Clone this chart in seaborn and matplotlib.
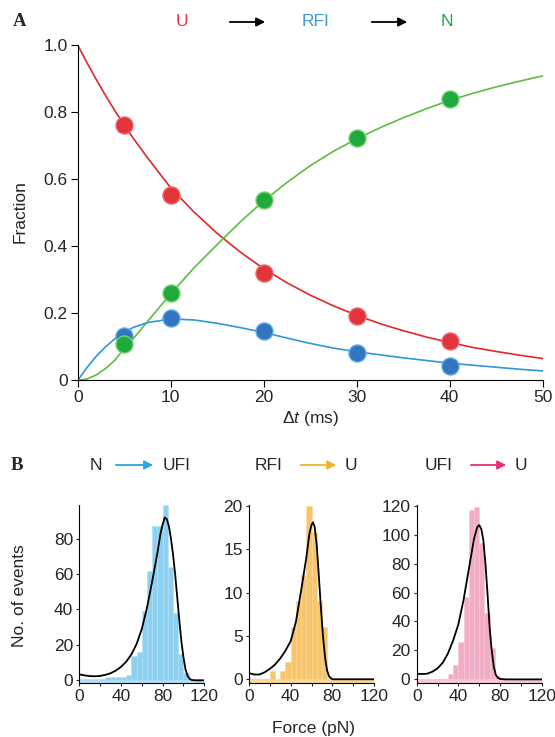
import numpy as np
import pandas as pd
import matplotlib
matplotlib.use("Agg")
import matplotlib.pyplot as plt
import seaborn as sns

# ---- panel A data: fraction of U, RFI and N vs delay time ----
t_pts = [5, 10, 20, 30, 40]
U_pts = [0.762, 0.552, 0.319, 0.192, 0.117]
RFI_pts = [0.132, 0.187, 0.148, 0.082, 0.044]
N_pts = [0.108, 0.261, 0.538, 0.722, 0.839]

# fitted curves
t_fit = [0, 1, 2, 3, 4, 5, 6, 7.5, 10, 12.5, 15, 17.5, 20, 22.5, 25, 27.5,
         30, 32.5, 35, 37.5, 40, 42.5, 45, 47.5, 50]
U_fit = [1.0, 0.947, 0.897, 0.849, 0.804, 0.761, 0.721, 0.664, 0.574, 0.502,
         0.438, 0.382, 0.333, 0.291, 0.254, 0.222, 0.194, 0.169, 0.148, 0.129,
         0.113, 0.098, 0.086, 0.075, 0.065]
RFI_fit = [0, 0.038, 0.072, 0.100, 0.124, 0.143, 0.158, 0.172, 0.183, 0.180,
           0.170, 0.157, 0.143, 0.126, 0.110, 0.096, 0.085, 0.076, 0.067,
           0.059, 0.051, 0.045, 0.039, 0.033, 0.028]
N_fit = [0, 0.004, 0.016, 0.035, 0.06, 0.095, 0.125, 0.175, 0.258, 0.335,
         0.405, 0.473, 0.535, 0.59, 0.64, 0.683, 0.72, 0.753, 0.783, 0.81,
         0.835, 0.856, 0.875, 0.892, 0.908]

# ---- panel B data: rupture force histograms (5 pN bins) ----
bin_edges = list(range(0, 125, 5))
counts_N = [1, 1, 1, 1, 1, 2, 2, 2, 2, 3, 14, 16, 39, 62, 87, 87, 99, 64,
            38, 15, 4, 1, 1, 1]
counts_RFI = [0, 0, 0, 0, 1, 0, 1, 2, 6, 9, 12, 20, 17, 9, 6, 0, 0, 0,
              0, 0, 0, 0, 0, 0]
counts_UFI = [0, 0, 0, 0, 0, 0, 4, 10, 26, 57, 117, 119, 94, 46, 22, 2, 1, 0,
              0, 0, 0, 0, 0, 0]

# fitted force distributions
f_N = [0, 5, 10, 15, 20, 25, 30, 35, 40, 45, 50, 55, 60, 65, 70, 75, 78, 80,
       82, 84, 86, 88, 90, 92, 94, 96, 98, 100, 102, 104, 106, 108, 112, 120]
fit_N = [3.4, 2.8, 2.4, 2.3, 2.5, 3.1, 4.0, 5.5, 7.6, 10.5, 14.6, 20.5, 29,
         41, 56, 72, 83, 88, 92, 91, 87, 80, 71, 60, 47, 34, 22, 13, 6, 2.5,
         0.8, 0.2, 0, 0]
f_RFI = [0, 5, 10, 15, 20, 25, 30, 35, 40, 45, 50, 55, 58, 60, 61.5, 63, 65,
         67, 69, 71, 73, 75, 77, 80, 120]
fit_RFI = [0.7, 0.55, 0.55, 0.8, 1.2, 1.7, 2.4, 3.3, 4.4, 6.6, 10.2, 14,
           16.8, 17.8, 18.1, 17.6, 15.5, 12, 8.3, 5, 2.5, 1, 0.3, 0, 0]
f_UFI = [0, 5, 10, 15, 20, 25, 30, 35, 40, 45, 50, 55, 58, 60, 62, 64, 66,
         68, 70, 72, 74, 76, 78, 80, 85, 120]
fit_UFI = [3.9, 3.7, 3.9, 5.3, 7.6, 11.5, 17.9, 27, 38, 55, 76, 97, 105,
           106.6, 104, 96, 80, 59, 36, 20, 8.7, 3, 1.1, 0.3, 0, 0]

red, blue, green = "#e2343a", "#3574c0", "#1faa3e"
red_line, blue_line, green_line = "#e3262b", "#2e98d8", "#5cbd42"

sns.set_style("ticks")
plt.rcParams['font.family'] = ['Liberation Sans', 'DejaVu Sans']
plt.rcParams['mathtext.fontset'] = 'custom'
plt.rcParams['mathtext.it'] = 'Liberation Sans:italic'
plt.rcParams['mathtext.rm'] = 'Liberation Sans'

W, H = 555, 737
fig = plt.figure(figsize=(W / 100, H / 100), dpi=100)


def px_box(x0, y0, x1, y1):
    # pixel box (left, top, right, bottom) -> figure fraction rect
    return [x0 / W, 1 - y1 / H, (x1 - x0) / W, (y1 - y0) / H]


def arrow(x0, x1, y, color):
    fig.add_artist(matplotlib.patches.FancyArrowPatch(
        (x0 / W, 1 - y / H), (x1 / W, 1 - y / H), transform=fig.transFigure,
        arrowstyle='-|>', mutation_scale=13, lw=1.3, color=color))


def ftext(x, y, s, **kw):
    fig.text(x / W, 1 - y / H, s, ha='center', va='center', **kw)


fs = 12.5

# ---------------- panel A ----------------
axA = fig.add_axes(px_box(77.7, 45, 542.7, 380.3))
sns.lineplot(x=t_fit, y=U_fit, color=red_line, lw=1.2, ax=axA)
sns.lineplot(x=t_fit, y=N_fit, color=green_line, lw=1.2, ax=axA)
sns.lineplot(x=t_fit, y=RFI_fit, color=blue_line, lw=1.2, ax=axA)
sns.scatterplot(x=t_pts, y=RFI_pts, s=150, color=blue, edgecolor="#5aaee3",
                linewidth=1, ax=axA, zorder=3)
sns.scatterplot(x=t_pts, y=U_pts, s=150, color=red, edgecolor="#ee6a6a",
                linewidth=1, ax=axA, zorder=3)
sns.scatterplot(x=t_pts, y=N_pts, s=150, color=green, edgecolor="#7fcf6f",
                linewidth=1, ax=axA, zorder=4)
axA.set_xlim(0, 50)
axA.set_ylim(0, 1.0)
axA.set_xticks([0, 10, 20, 30, 40, 50])
axA.set_yticks([0, 0.2, 0.4, 0.6, 0.8, 1.0])
axA.set_yticklabels(['0', '0.2', '0.4', '0.6', '0.8', '1.0'])
axA.tick_params(labelsize=fs, length=5, width=0.8, pad=2, color='black')
for s in ['left', 'bottom']:
    axA.spines[s].set_linewidth(0.8)
    axA.spines[s].set_color('black')
sns.despine(ax=axA)
axA.set_xlabel('')
axA.set_ylabel('')

ftext(20, 212, 'Fraction', rotation=90, fontsize=fs)
ftext(310, 418, r'Δ$t$ (ms)', fontsize=fs)
ftext(20, 22, 'A', fontsize=13.5, fontweight='bold', family='Liberation Serif')
ftext(181.7, 22, 'U', fontsize=fs, color="#e8343c")
arrow(227, 268, 22, 'black')
ftext(316, 22, 'RFI', fontsize=fs, color="#3a9ad9")
arrow(369, 410, 22, 'black')
ftext(446.5, 22, 'N', fontsize=fs, color="#1fa845")

# ---------------- panel B ----------------
hist_specs = [
    (79.3, counts_N, f_N, fit_N, "#8dd0f0", "#b3e0f5", (-1.5, 99),
     [0, 20, 40, 60, 80]),
    (249, counts_RFI, f_RFI, fit_RFI, "#f7c56c", "#fad79a", (-0.43, 20.1),
     [0, 5, 10, 15, 20]),
    (416.7, counts_UFI, f_UFI, fit_UFI, "#f3acc6", "#f7c8d9", (-2.5, 120.5),
     [0, 20, 40, 60, 80, 100, 120]),
]
centers = [e + 2.5 for e in bin_edges[:-1]]
for x0, counts, fx, fy, col, light, ylim, yt in hist_specs:
    ax = fig.add_axes(px_box(x0, 505, x0 + 125, 683))
    df = pd.DataFrame({'force': centers, 'count': counts})
    sns.histplot(data=df, x='force', weights='count', bins=bin_edges,
                 color=col, alpha=1, edgecolor=light, linewidth=0.4, ax=ax)
    ax.axhspan(ylim[0], 0, xmin=0, xmax=1, color=light, lw=0, zorder=0)
    sns.lineplot(x=fx, y=fy, color='black', lw=1.3, ax=ax)
    ax.set_xlim(0, 120)
    ax.set_ylim(*ylim)
    ax.set_xticks([0, 40, 80, 120])
    ax.set_xticks([20, 60, 100], minor=True)
    ax.set_yticks(yt)
    ax.tick_params(which='both', labelsize=fs, length=2.5, width=0.8, pad=2)
    for s in ['left', 'bottom']:
        ax.spines[s].set_linewidth(0.8)
        ax.spines[s].set_color('black')
    sns.despine(ax=ax)
    ax.set_xlabel('')
    ax.set_ylabel('')

ftext(19.5, 596, 'No. of events', rotation=90, fontsize=fs)
ftext(313, 728, 'Force (pN)', fontsize=fs)
ftext(16.5, 465, 'B', fontsize=13.5, fontweight='bold', family='Liberation Serif')

ftext(95.5, 465, 'N', fontsize=fs)
arrow(113, 156, 465, "#2aa6de")
ftext(176.5, 465, 'UFI', fontsize=fs)
ftext(269, 465, 'RFI', fontsize=fs)
arrow(298, 339, 465, "#efb32e")
ftext(350.5, 465, 'U', fontsize=fs)
ftext(439, 465, 'UFI', fontsize=fs)
arrow(468, 509, 465, "#e5307c")
ftext(520.5, 465, 'U', fontsize=fs)

fig.savefig('out.png', dpi=100)
